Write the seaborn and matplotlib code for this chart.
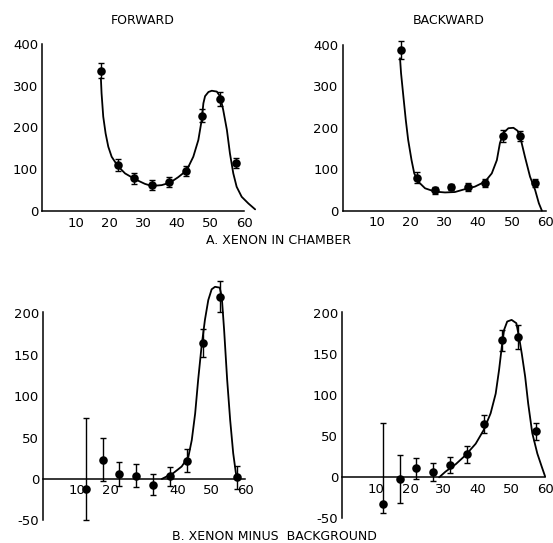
import numpy as np
import pandas as pd
import matplotlib
matplotlib.use("Agg")
import matplotlib.pyplot as plt
from matplotlib.ticker import FixedLocator
import seaborn as sns

# ---- A. xenon in chamber, forward ----
a_fwd_x = [17.3, 22.4, 27.4, 32.5, 37.6, 42.6, 47.6, 52.7, 57.7]
a_fwd_y = [336, 110, 78, 62, 70, 95, 228, 268, 114]
a_fwd_err = [18, 14, 13, 12, 12, 12, 16, 17, 12]
a_fwd_cx = [17.4, 17.6, 18.1, 18.8, 19.6, 20.6, 22.4, 24.6, 27.6, 30.5, 32.5, 35.5,
            38.0, 40.4, 42.9, 44.9, 46.4, 47.4, 47.9, 48.4, 49.4, 50.4, 51.9, 52.9,
            53.8, 54.9, 55.8, 56.8, 57.8, 59.3, 61.3, 63.3]
a_fwd_cy = [318, 282, 226, 186, 154, 130, 108, 90, 76, 65, 60, 62,
            68, 81, 97, 130, 170, 218, 258, 275, 285, 288, 286, 274,
            242, 194, 138, 90, 58, 34, 18, 4]

# ---- A. xenon in chamber, backward ----
a_bwd_x = [17.2, 22.0, 27.1, 32.0, 37.0, 42.0, 47.3, 52.2, 56.9]
a_bwd_y = [388, 80, 49, 57, 58, 67, 180, 180, 67]
a_bwd_err = [21, 13, 8, 8, 10, 10, 15, 12, 10]
a_bwd_cx = [16.9, 17.2, 17.9, 18.6, 19.3, 20.3, 21.1, 22.3, 24.3, 27.2, 30.2, 33.1,
            36.1, 39.0, 42.0, 44.0, 45.5, 46.4, 47.4, 48.9, 50.4, 51.6, 52.6, 53.8,
            55.3, 56.8, 57.9, 58.8]
a_bwd_cy = [368, 332, 275, 219, 171, 122, 90, 70, 54, 46, 44, 45,
            52, 58, 70, 90, 122, 163, 187, 199, 200, 193, 171, 130,
            82, 50, 18, 0]

# ---- B. xenon minus background, forward ----
b_fwd_x = [12.6, 17.6, 22.6, 27.5, 32.6, 37.6, 42.7, 47.4, 52.4, 57.4]
b_fwd_y = [-12, 23, 6, 4, -7, 3, 22, 164, 220, 2]
b_fwd_lo = [37, 26, 14, 14, 13, 12, 14, 17, 19, 14]
b_fwd_hi = [85, 26, 14, 14, 13, 12, 14, 17, 19, 14]
b_fwd_cx = [35.2, 38.6, 41.1, 43.1, 44.1, 45.1, 46.0, 47.0, 48.0, 49.0, 50.0, 51.0,
            52.4, 53.0, 53.7, 54.6, 55.5, 56.4, 57.2, 57.6]
b_fwd_cy = [0, 7, 15, 27, 47, 79, 120, 160, 192, 216, 229, 232,
            231, 220, 180, 120, 71, 31, 7, 0]

# ---- B. xenon minus background, backward ----
b_bwd_x = [11.9, 16.9, 21.9, 26.9, 31.9, 36.8, 41.8, 47.1, 52.0, 57.1]
b_bwd_y = [-32, -2, 11, 6, 15, 28, 65, 167, 171, 56]
b_bwd_lo = [12, 29, 13, 11, 10, 10, 11, 13, 15, 10]
b_bwd_hi = [98, 29, 13, 11, 10, 10, 11, 13, 15, 10]
b_bwd_cx = [28.6, 30.5, 33.5, 36.4, 39.4, 41.8, 43.8, 45.3, 46.3, 47.1, 47.8, 48.7,
            50.0, 51.4, 52.2, 53.0, 54.0, 54.9, 56.1, 57.6, 58.9, 59.9]
b_bwd_cy = [0, 7, 16, 27, 41, 58, 78, 102, 131, 159, 180, 190,
            192, 188, 171, 151, 123, 90, 54, 29, 13, 1]

x_major = [10, 20, 30, 40, 50, 60]
x_minor = [5, 15, 25, 35, 45, 55]

sns.set_style("white")
plt.rcParams['font.family'] = ['DejaVu Sans']
plt.rcParams['text.color'] = 'black'
plt.rcParams['xtick.color'] = 'black'
plt.rcParams['ytick.color'] = 'black'
plt.rcParams['axes.labelcolor'] = 'black'

fig = plt.figure(figsize=(5.53, 5.43), dpi=100)


def panel(rect, px, py, ylo, yhi, cx, cy, xlim, ylim, ybounds,
          ymajor, yminor, xlabels):
    ax = fig.add_axes(rect)
    ax.set_facecolor("white")
    curve = pd.DataFrame({"x": cx, "y": cy})
    sns.lineplot(data=curve, x="x", y="y", ax=ax, color="black",
                 linewidth=1.3, sort=False, estimator=None)
    ax.errorbar(px, py, yerr=[ylo, yhi], fmt="none", ecolor="black",
                elinewidth=1.0, capsize=2.5, capthick=1.0)
    pts = pd.DataFrame({"x": px, "y": py})
    sns.scatterplot(data=pts, x="x", y="y", ax=ax, color="black",
                    s=38, edgecolor="black", linewidth=0, zorder=5)
    for ln in ax.lines:
        ln.set_clip_on(False)
    for c in ax.collections:
        c.set_clip_on(False)
    ax.set_xlim(*xlim)
    ax.set_ylim(*ylim)
    for s in ("top", "right"):
        ax.spines[s].set_visible(False)
    ax.spines["bottom"].set_position(("data", 0))
    ax.spines["bottom"].set_bounds(0, 60)
    ax.spines["left"].set_bounds(*ybounds)
    for s in ("bottom", "left"):
        ax.spines[s].set_linewidth(1.1)
        ax.spines[s].set_color("black")
    ax.xaxis.set_major_locator(FixedLocator(x_major))
    ax.xaxis.set_minor_locator(FixedLocator(x_minor))
    ax.set_xticklabels(xlabels)
    ax.yaxis.set_major_locator(FixedLocator(ymajor))
    ax.yaxis.set_minor_locator(FixedLocator(yminor))
    ax.set_yticklabels([str(v) for v in ymajor])
    ax.tick_params(axis="both", which="both", direction="in", length=4,
                   width=1.0, color="black", labelsize=9.5, pad=3)
    ax.tick_params(axis="x", which="major", pad=4)
    ax.set_xlabel("")
    ax.set_ylabel("")
    return ax


panel([0.0767, 0.6114, 0.395, 0.3153], a_fwd_x, a_fwd_y, a_fwd_err, a_fwd_err,
      a_fwd_cx, a_fwd_cy, (0, 65), (0, 410), (0, 400),
      [0, 100, 200, 300, 400], [50, 150, 250, 350],
      ["10", "20", "30", "40", "50", "60"])

panel([0.6199, 0.612, 0.3796, 0.3129], a_bwd_x, a_bwd_y, a_bwd_err, a_bwd_err,
      a_bwd_cx, a_bwd_cy, (0, 62), (0, 410), (0, 400),
      [0, 100, 200, 300, 400], [50, 150, 250, 350],
      ["10", "20", "30", "40", "50", "60"])

panel([0.0783, 0.0341, 0.3775, 0.4499], b_fwd_x, b_fwd_y, b_fwd_lo, b_fwd_hi,
      b_fwd_cx, b_fwd_cy, (0, 62), (-55, 240), (-50, 202),
      [-50, 0, 50, 100, 150, 200], [],
      ["10", "20", "", "40", "50", "60"])

ax_br = panel([0.6190, 0.0379, 0.3796, 0.4077], b_bwd_x, b_bwd_y, b_bwd_lo, b_bwd_hi,
              b_bwd_cx, b_bwd_cy, (0, 62), (-55, 215), (-50, 202),
              [-50, 0, 50, 100, 150, 200], [],
              ["10", "20", "30", "40", "50", "60"])

fig.text(0.2586, 0.963, "FORWARD", ha="center", va="center", fontsize=9)
fig.text(0.812, 0.963, "BACKWARD", ha="center", va="center", fontsize=9)
fig.text(0.503, 0.558, "A. XENON IN CHAMBER", ha="center", va="center", fontsize=9)
fig.text(0.497, 0.012, "B. XENON MINUS  BACKGROUND", ha="center", va="center",
         fontsize=9)

fig.savefig("out.png", dpi=100, facecolor="white")
